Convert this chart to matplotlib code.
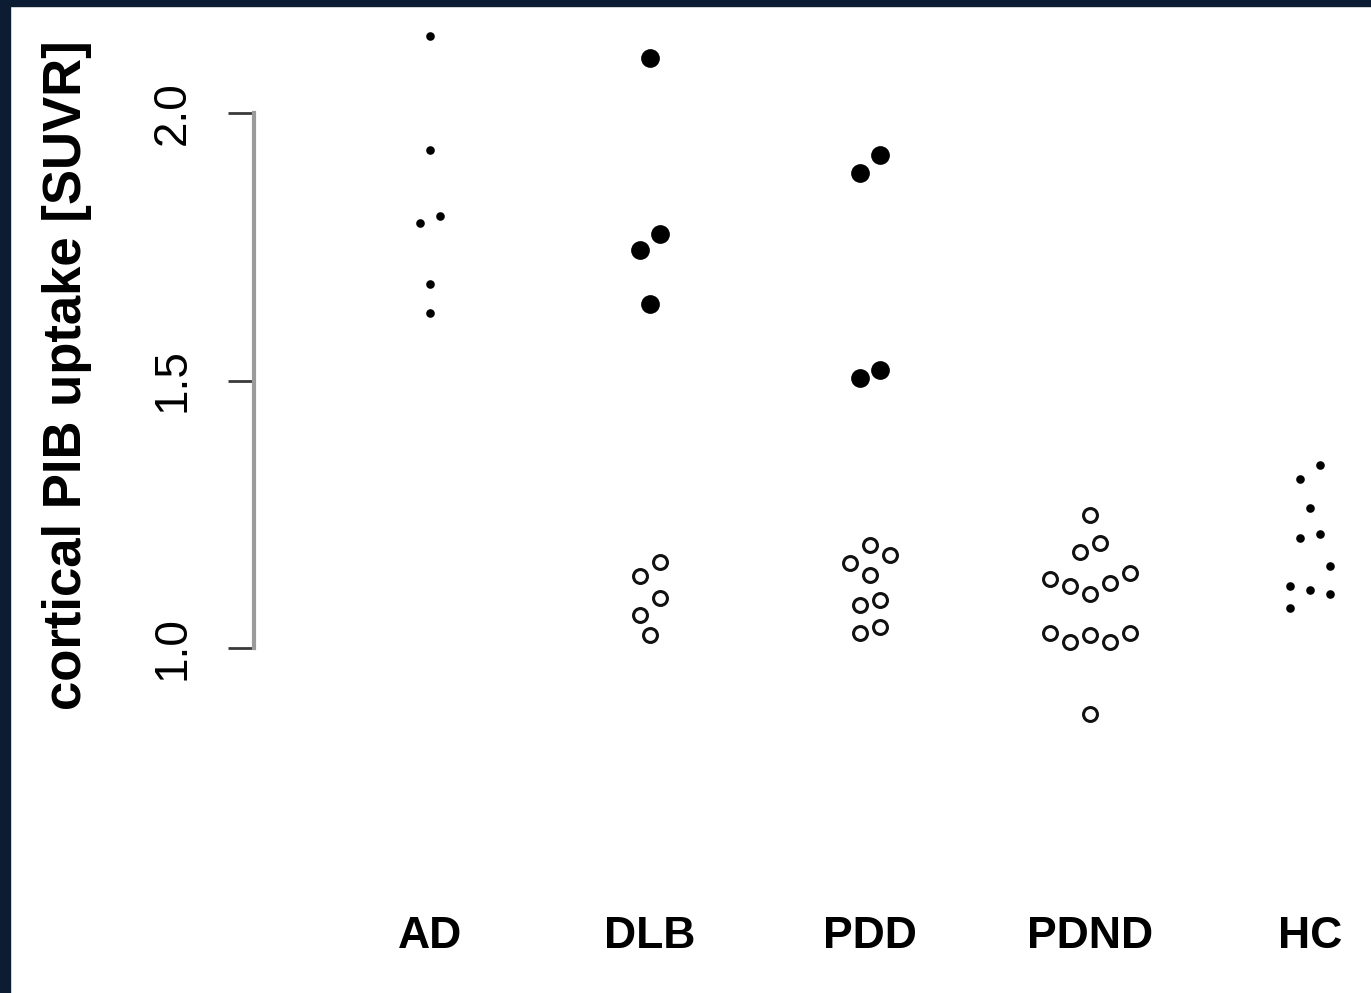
import numpy as np
import matplotlib.pyplot as plt
from matplotlib.patches import Rectangle

plt.rcParams['font.family'] = ['Liberation Sans', 'DejaVu Sans']

groups = ['AD', 'DLB', 'PDD', 'PDND', 'HC']

# SUVR values; *_slot = sideways swarm slot of each point
ad_suvr = [2.144, 1.931, 1.794, 1.807, 1.680, 1.626]
ad_slot = [0, 0, -0.5, 0.5, 0, 0]

# DLB / PDD: amyloid positive (filled) and negative (open)
dlb_pos = [2.103, 1.774, 1.744, 1.643]
dlb_pos_slot = [0, 0.5, -0.5, 0]
dlb_neg = [1.161, 1.135, 1.093, 1.062, 1.024]
dlb_neg_slot = [0.5, -0.5, 0.5, -0.5, 0]

pdd_pos = [1.921, 1.888, 1.520, 1.505]
pdd_pos_slot = [0.5, -0.5, 0.5, -0.5]
pdd_neg = [1.193, 1.174, 1.159, 1.136, 1.090, 1.080, 1.039, 1.028]
pdd_neg_slot = [0, 1, -1, 0, 0.5, -0.5, 0.5, -0.5]

pdnd_neg = [1.249, 1.196, 1.179, 1.140, 1.129, 1.121, 1.116, 1.101,
            1.028, 1.011, 1.024, 1.011, 1.028, 0.877]
pdnd_neg_slot = [0, 0.5, -0.5, 2, -2, 1, -1, 0, -2, -1, 0, 1, 2, 0]

hc_suvr = [1.342, 1.316, 1.262, 1.213, 1.206, 1.153, 1.116, 1.108, 1.101, 1.075]
hc_slot = [0.5, -0.5, 0, 0.5, -0.5, 1, -1, 0, 1, -1]

W, H = 1371, 993
fig = plt.figure(figsize=(W / 100, H / 100), dpi=100)
fig.patch.set_facecolor('white')
# dark blue frame at top and left
fig.patches.append(Rectangle((0, 1 - 6 / H), 1, 6 / H, transform=fig.transFigure,
                             color='#0c1c32', zorder=0))
fig.patches.append(Rectangle((0, 0), 10 / W, 1, transform=fig.transFigure,
                             color='#0c1c32', zorder=0))

ax = fig.add_axes([254 / W, 233 / H, (W - 254) / W, 740 / H])
ax.set_facecolor('none')

step = 0.09  # width of one swarm slot in category units


def swarm(i, vals, slots, **kw):
    x = i + np.array(slots) * step
    ax.plot(x, vals, linestyle='none', **kw)


small = dict(marker='o', ms=6.2, color='black', mew=0)
filled = dict(marker='o', ms=13.5, color='black', mew=0)
hollow = dict(marker='o', ms=10, mfc='white', mec='#111111', mew=2.2)

swarm(0, ad_suvr, ad_slot, **small)
swarm(1, dlb_pos, dlb_pos_slot, **filled)
swarm(1, dlb_neg, dlb_neg_slot, **hollow)
swarm(2, pdd_pos, pdd_pos_slot, **filled)
swarm(2, pdd_neg, pdd_neg_slot, **hollow)
swarm(3, pdnd_neg, pdnd_neg_slot, **hollow)
swarm(4, hc_suvr, hc_slot, **small)

ax.set_xlim(-0.8, 4.277)
ax.set_ylim(0.7907, 2.1738)

for s in ['top', 'right', 'bottom']:
    ax.spines[s].set_visible(False)
ax.spines['left'].set_bounds(1.0, 2.0)
ax.spines['left'].set_color('#9a9a9a')
ax.spines['left'].set_linewidth(3)

ax.set_yticks([1.0, 1.5, 2.0])
ax.set_yticklabels(['1.0', '1.5', '2.0'])
ax.tick_params(axis='y', length=19, width=2, color='#3a3a3a', labelsize=33, pad=24)
for lab in ax.get_yticklabels():
    lab.set_rotation(90)
    lab.set_va('center')

ax.set_xticks(range(len(groups)))
ax.set_xticklabels(groups, fontweight='bold')
ax.tick_params(axis='x', length=0, labelsize=32, pad=112)

fig.text(67 / W, 1 - 375 / H, 'cortical PIB uptake [SUVR]', rotation=90,
         ha='center', va='center', fontsize=38, fontweight='bold')

fig.savefig('out.png', dpi=100)
